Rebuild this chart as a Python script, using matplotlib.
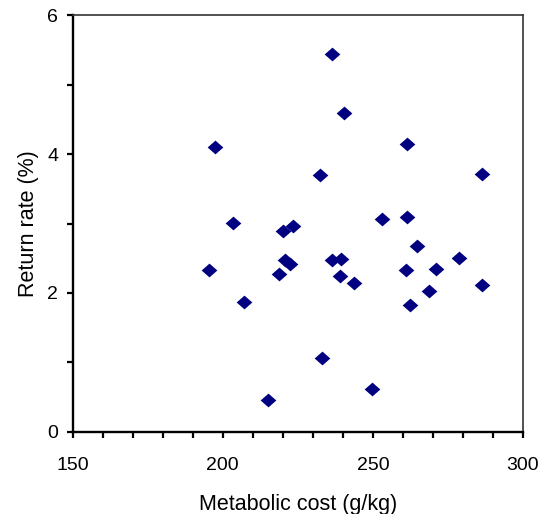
import numpy as np
import matplotlib
matplotlib.use("Agg")
from matplotlib import pyplot as plt
from matplotlib.ticker import MultipleLocator
from matplotlib.path import Path

# coste metabolico (g/kg) y tasa de retorno (%)
metabolicCost = [197.4, 203.5, 220.0, 223.3, 236.3, 240.4, 261.5, 232.3,
                 286.3, 253.1, 261.5, 264.7, 195.3, 206.9, 214.9, 218.7,
                 220.8, 222.4, 236.3, 239.3, 239.1, 243.8, 260.9, 271.1,
                 278.7, 268.7, 262.4, 286.3, 232.9, 249.8]
returnRate = [4.10, 3.01, 2.90, 2.96, 5.45, 4.60, 4.15, 3.70,
              3.72, 3.07, 3.09, 2.67, 2.33, 1.87, 0.46, 2.28,
              2.48, 2.42, 2.47, 2.49, 2.24, 2.15, 2.33, 2.35,
              2.50, 2.03, 1.83, 2.12, 1.07, 0.62]

xTicks = [150, 200, 250, 300]
yTicks = [0, 2, 4, 6]

plt.rcParams['font.family'] = ['Liberation Sans', 'DejaVu Sans']

# rombo un poco mas ancho que alto, como el de Excel
diamond = Path([(-1, 0), (0, -0.88), (1, 0), (0, 0.88), (-1, 0)],
               [Path.MOVETO, Path.LINETO, Path.LINETO, Path.LINETO, Path.CLOSEPOLY])

fig = plt.figure(figsize=(5.47, 5.14), dpi=100)
ax = fig.add_axes([0.133, 0.160, 0.823, 0.810])

ax.plot(metabolicCost, returnRate, linestyle='None', marker=diamond,
        markersize=11.3, color='#000080', markeredgewidth=0)

ax.set_xlim(150, 300)
ax.set_ylim(0, 6)
ax.set_xticks(xTicks)
ax.set_yticks(yTicks)
ax.xaxis.set_minor_locator(MultipleLocator(10))
ax.yaxis.set_minor_locator(MultipleLocator(1))

##-------------------- estilo de ejes tipo Excel --------------------##
for side in ['left', 'bottom']:
    ax.spines[side].set_linewidth(1.7)
    ax.spines[side].set_color('black')
for side in ['top', 'right']:
    ax.spines[side].set_linewidth(1.2)
    ax.spines[side].set_color('#333333')

ax.tick_params(axis='both', which='both', direction='out', length=4.5,
               width=1.6, color='black', top=False, right=False)
ax.tick_params(axis='x', which='major', pad=14, labelsize=14)
ax.tick_params(axis='y', which='major', pad=6, labelsize=14)

ax.set_xlabel('Metabolic cost (g/kg)', fontsize=15.5, labelpad=14)
ax.set_ylabel('Return rate (%)', fontsize=15.5, labelpad=6)

fig.savefig('out.png', dpi=100)
